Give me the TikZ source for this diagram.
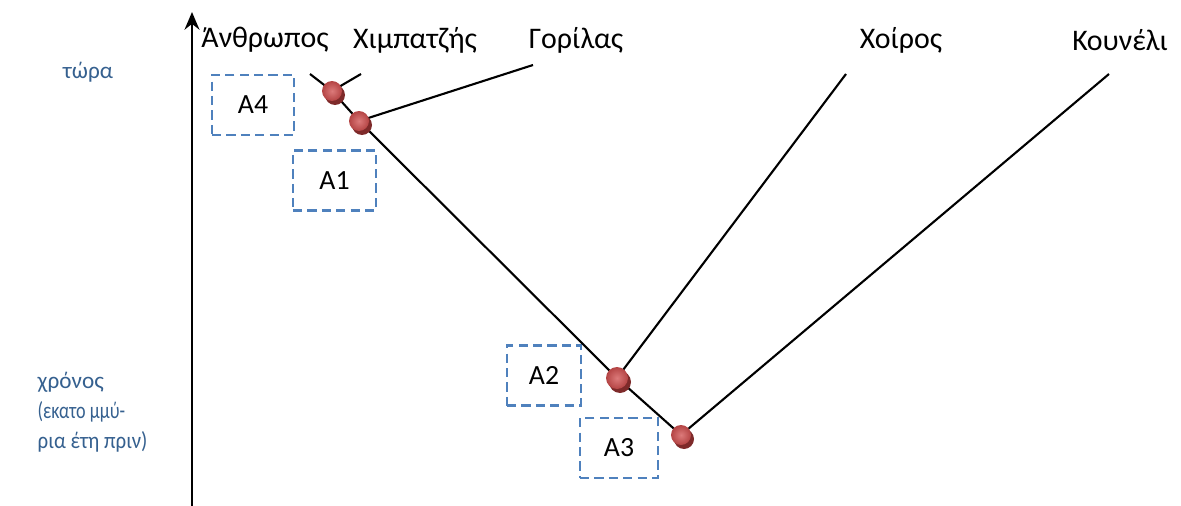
\documentclass[tikz,border=0pt]{standalone}
\usepackage{fontspec}
\usepackage{graphicx}
\setmainfont{Carlito}
\usetikzlibrary{arrows.meta,calc}
\definecolor{boxblue}{HTML}{4F81BD}
\definecolor{txtblue}{HTML}{35608F}
\definecolor{balldark}{HTML}{7E2A2A}
\definecolor{ballred}{HTML}{B44444}
\definecolor{ballhi}{HTML}{DC7A7A}
\tikzset{
  lbl/.style={font=\fontsize{8.5pt}{10pt}\selectfont, inner sep=0pt},
  sidelbl/.style={font=\fontsize{6.6pt}{8.5pt}\selectfont, text=txtblue, inner sep=0pt},
  abox/.style={draw=boxblue, line width=0.8pt, dash pattern=on 2.6pt off 1.5pt,
     minimum width=0.80cm, minimum height=0.60cm, inner sep=0pt,
     font=\fontsize{7.9pt}{9pt}\selectfont},
  branch/.style={line width=0.6pt, black},
  junc/.style={circle, inner sep=0pt, minimum size=#1},
  junc/.default={0.2cm},
}
\newcommand{\myball}[2]{%
  \fill[balldark] ($(#1)+(3,4)$) circle (#2);
  \shade[inner color=ballhi, outer color=ballred] (#1) circle (#2);
}
\begin{document}
\begin{tikzpicture}[x=0.01cm,y=-0.01cm]
\useasboundingbox (0,0) rectangle (1181,506);
% axis
\coordinate (axb) at (192,506);
\coordinate (axt) at (192,12);
\draw[line width=0.8pt, -{Stealth[length=5pt,width=4.2pt]}] (axb) -- (axt);
% labels
\node[lbl] (hum) at (265,40) {Άνθρωπος};
\node[lbl] (chi) at (415,40) {Χιμπατζής};
\node[lbl] (gor) at (576,40) {Γορίλας};
\node[lbl] (pig) at (901,40) {Χοίρος};
\node[lbl] (rab) at (1120,40) {Κουνέλι};
\node[sidelbl] (now) at (88,72) {τώρα};
\node[sidelbl, align=left, anchor=north west, font=\fontsize{6.6pt}{8.6pt}\selectfont] (time) at (37,371)
  {χρόνος\\\scalebox{0.78}[1]{(εκατο μμύ-}\\\scalebox{0.9}[1]{ρια έτη πριν)}};
% boxes
\node[abox, minimum width=0.82cm] (a4) at (253,105) {A4};
\node[abox, minimum width=0.83cm] (a1) at (334.5,180.5) {A1};
\node[abox, minimum width=0.74cm] (a2) at (544,375.5) {A2};
\node[abox, minimum width=0.78cm] (a3) at (619,448) {A3};
% branch tips
\coordinate (thum) at (310,74);
\coordinate (tchi) at (361,74);
\coordinate (tgor) at (533,65);
\coordinate (tpig) at (846,74);
\coordinate (trab) at (1109,74);
% junctions
\node[junc] (j1) at (332,91) {};
\node[junc] (j2) at (359,121) {};
\node[junc=0.22cm] (j3) at (617,378) {};
\node[junc] (j4) at (681,435) {};
% lines
\draw[branch] (thum) -- (j1.center) -- (j2.center) -- (j3.center) -- (j4.center);
\draw[branch] (j1.center) -- (tchi);
\draw[branch] (j2.center) -- (tgor);
\draw[branch] (j3.center) -- (tpig);
\draw[branch] (j4.center) -- (trab);
% balls
\myball{j1}{10}
\myball{j2}{10}
\myball{j3}{11}
\myball{j4}{10}
\end{tikzpicture}
\end{document}
